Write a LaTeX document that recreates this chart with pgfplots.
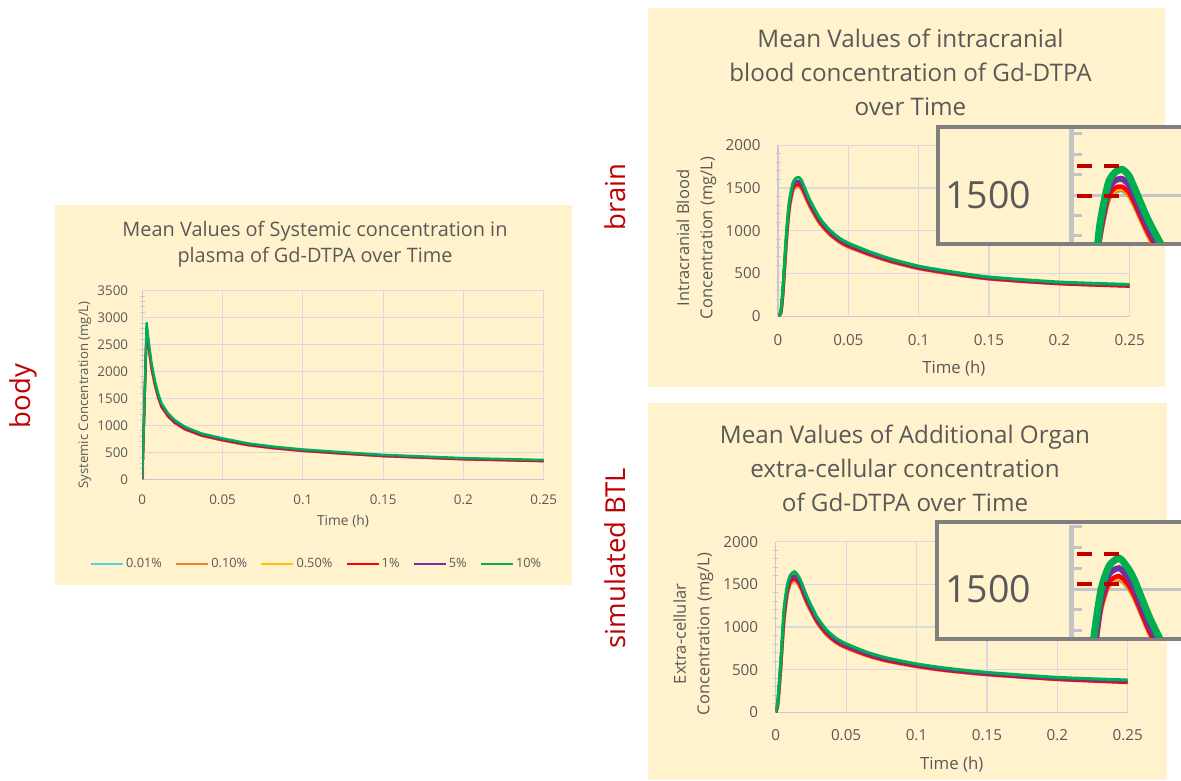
\documentclass[border=0pt]{standalone}
\usepackage{pgfplots}
\pgfplotsset{compat=1.18}
\usepackage{pgfplotstable}
\usepackage{fontspec}
\setmainfont{Open Sans}
\definecolor{cream}{HTML}{FFF2CC}
\definecolor{labgray}{HTML}{595959}
\definecolor{gridgray}{HTML}{D9D9DE}
\definecolor{axgray}{HTML}{C8C8D0}
\definecolor{insgray}{HTML}{C4C4C8}
\definecolor{boxgray}{HTML}{7F7F7F}
\definecolor{darkred}{HTML}{C00000}
\definecolor{sCyan}{HTML}{4FD3DA}
\definecolor{sOrange}{HTML}{ED7D31}
\definecolor{sYellow}{HTML}{FFC000}
\definecolor{sRed}{HTML}{FF0000}
\definecolor{sPurple}{HTML}{7030A0}
\definecolor{sGreen}{HTML}{00B050}

\pgfplotstableread{
t       c     o     y     r     p     g
0       0     0     0     0     0     0
0.0027  2760  2770  2780  2790  2840  2913
0.004   2420  2428  2435  2440  2490  2560
0.0058  2040  2046  2052  2057  2100  2152
0.0078  1750  1754  1760  1763  1800  1843
0.0099  1512  1516  1520  1523  1556  1596
0.012   1336  1339  1343  1345  1374  1410
0.0161  1160  1163  1166  1168  1193  1224
0.0202  1043  1046  1049  1050  1073  1101
0.0264  926   928   931   932   952   977
0.0368  808   810   812   813   831   853
0.05    721   722   724   725   741   761
0.0657  633   634   636   636   650   668
0.0822  574   575   577   576   590   606
0.1     526   527   528   527   540   555
0.125   477   478   479   477   489   503
0.15    431   431   433   430   442   455
0.2     373   373   375   371   383   395
0.25    340   339   341   336   349   360
}\sysdata

\pgfplotstableread{
t       c     o     y     r     p     g
0       0     0     0     0     0     0
0.002   30    32    35    40    45    60
0.0035  250   255   262   275   300   340
0.006   870   878   888   905   935   980
0.008   1240  1247  1256  1270  1300  1340
0.0105  1460  1465  1472  1485  1520  1555
0.0125  1510  1515  1522  1535  1570  1610
0.0146  1520  1524  1530  1540  1578  1625
0.0165  1492  1496  1502  1512  1550  1595
0.018   1445  1449  1455  1465  1500  1540
0.0224  1285  1289  1294  1303  1333  1368
0.0295  1086  1089  1093  1100  1125  1152
0.0366  955   958   961   967   989   1012
0.0436  865   867   870   875   894   915
0.05    810   812   814   818   836   856
0.065   716   718   720   723   739   756
0.08    637   638   640   642   656   672
0.1     556   557   559   560   573   587
0.12    502   503   505   505   517   530
0.15    436   437   439   438   449   460
0.2     381   381   383   380   391   401
0.25    354   353   355   350   363   373
}\braindata

\pgfplotstableread{
t       c     o     y     r     p     g
0       0     0     0     0     0     0
0.0015  80    85    90    100   110   140
0.0035  480   488   497   510   540   590
0.0047  790   797   806   820   855   902
0.0059  1060  1067  1076  1090  1130  1216
0.0082  1375  1381  1388  1400  1440  1490
0.0106  1510  1516  1522  1534  1572  1612
0.0134  1540  1546  1552  1562  1600  1648
0.0155  1510  1515  1521  1530  1566  1610
0.0176  1452  1457  1462  1471  1506  1549
0.0223  1267  1271  1276  1283  1313  1353
0.0293  1047  1050  1054  1060  1085  1118
0.0364  900   903   906   911   932   961
0.0434  808   810   813   817   836   863
0.05    753   755   758   761   779   804
0.0646  662   663   665   668   684   706
0.0786  599   600   602   604   619   639
0.1     534   535   537   538   551   568
0.121   486   487   489   489   501   518
0.15    440   441   443   442   453   468
0.2     385   385   387   384   395   410
0.25    354   353   355   348   364   379
}\ecdata

\pgfplotsset{
  mainax/.style={
    scale only axis, anchor=south west,
    axis lines=left, axis line style={-, draw=axgray, line width=1.2pt},
    xmin=0, xmax=0.25, ymin=0,
    grid=major, major grid style={draw=gridgray, line width=1.2pt},
    xtick={0,0.05,0.1,0.15,0.2,0.25},
    xticklabels={0,0.05,0.1,0.15,0.2,0.25},
    major tick length=0pt, minor tick length=5pt, minor y tick num=4,
    tick align=center, minor tick style={draw=axgray, line width=1pt},
    /pgf/number format/assume math mode=true,
    /pgf/number format/1000 sep={}, scaled ticks=false,
    ticklabel style={text=labgray, inner sep=0pt},
    label style={text=labgray},
    clip=true,
  },
  insax/.style={
    scale only axis, anchor=south west,
    axis x line=none, axis y line=left,
    axis line style={-, draw=insgray, line width=5pt},
    xmin=0,
    ytick={1300,1400,1500,1600,1700,1800},
    yticklabels={,,1500,,,},
    major tick length=10pt, tick align=inside,
    major tick style={draw=insgray, line width=3pt},
    /pgf/number format/assume math mode=true,
    yticklabel style={text=labgray, font=\fontsize{37.5}{37.5}\selectfont, anchor=center, xshift=-83.7pt, inner sep=0pt},
    clip=true,
  },
}

\begin{document}
\begin{tikzpicture}[x=1pt,y=1pt]
\path[use as bounding box] (0,0) rectangle (1181,-780);
\fill[cream] (55,-205) rectangle (572,-585);
\fill[cream] (648,-8) rectangle (1165,-387);
\fill[cream] (648,-403) rectangle (1167,-780);

\node[rotate=90, text=darkred, font=\fontsize{27.5}{27.5}\selectfont] at (23,-396) {body};
\node[rotate=90, text=darkred, font=\fontsize{27.5}{27.5}\selectfont] at (615,-197) {brain};
\node[rotate=90, text=darkred, font=\fontsize{27.5}{27.5}\selectfont] at (615,-558) {simulated BTL};

\node[align=center, text=labgray, font=\fontsize{19.9}{26}\selectfont] at (315,-244.5) {Mean Values of Systemic concentration in\\plasma of Gd-DTPA over Time};
\node[align=center, text=labgray, font=\fontsize{24.2}{33.8}\selectfont] at (910.5,-72.5) {Mean Values of intracranial\\blood concentration of Gd-DTPA\\over Time};
\node[align=center, text=labgray, font=\fontsize{24.2}{33.8}\selectfont] at (905,-468.5) {Mean Values of Additional Organ\\extra-cellular concentration\\of Gd-DTPA over Time};

% ---------- body ----------
\begin{axis}[mainax, at={(142.3pt,-479.3pt)}, width=401.4pt, height=188.6pt,
  ymax=3500, ytick={0,500,1000,1500,2000,2500,3000,3500},
  ticklabel style={font=\fontsize{13.4}{13.4}\selectfont},
  xticklabel style={anchor=center, yshift=-20pt},
  yticklabel style={anchor=east, xshift=-14pt},
  xlabel={Time (h)}, ylabel={Systemic Concentration (mg/L)},
  xlabel style={font=\fontsize{13.8}{13.8}\selectfont, at={(0.5,-0.221)}, anchor=center},
  ylabel style={font=\fontsize{13.2}{13.2}\selectfont, at={(-0.1428,0.447)}, anchor=center, rotate=0},
  legend columns=6,
  legend style={draw=none, fill=none, at={(0.434,-0.449)}, anchor=center,
    font=\fontsize{12.8}{12.8}\selectfont, text=labgray,
    /tikz/every even column/.append style={column sep=11pt}},
  legend image code/.code={\draw[#1] (0pt,0pt) -- (32pt,0pt);},
]
\addplot[sCyan, line width=2.3pt] table[x=t,y=c]{\sysdata};
\addplot[sOrange, line width=2.3pt] table[x=t,y=o]{\sysdata};
\addplot[sYellow, line width=2.3pt] table[x=t,y=y]{\sysdata};
\addplot[sRed, line width=2.3pt] table[x=t,y=r]{\sysdata};
\addplot[sPurple, line width=2.3pt] table[x=t,y=p]{\sysdata};
\addplot[sGreen, line width=2.3pt] table[x=t,y=g]{\sysdata};
\legend{0.01\%,0.10\%,0.50\%,1\%,5\%,10\%}
\end{axis}

% ---------- brain ----------
\begin{axis}[mainax, at={(778pt,-316.3pt)}, width=351.7pt, height=171pt,
  ymax=2000, ytick={0,500,1000,1500,2000},
  ticklabel style={font=\fontsize{15.2}{15.2}\selectfont},
  xticklabel style={anchor=center, yshift=-23.4pt},
  yticklabel style={anchor=east, xshift=-17.3pt},
  xlabel={Time (h)}, ylabel={Intracranial Blood\\Concentration (mg/L)},
  xlabel style={font=\fontsize{16.8}{16.8}\selectfont, at={(0.5,-0.302)}, anchor=center},
  ylabel style={font=\fontsize{16.5}{23.3}\selectfont, align=center, at={(-0.232,0.458)}, anchor=center, rotate=0},
]
\addplot[sCyan, line width=3pt, smooth, tension=0.4] table[x=t,y=c]{\braindata};
\addplot[sOrange, line width=3pt, smooth, tension=0.4] table[x=t,y=o]{\braindata};
\addplot[sYellow, line width=3pt, smooth, tension=0.4] table[x=t,y=y]{\braindata};
\addplot[sRed, line width=3pt, smooth, tension=0.4] table[x=t,y=r]{\braindata};
\addplot[sPurple, line width=3pt, smooth, tension=0.4] table[x=t,y=p]{\braindata};
\addplot[sGreen, line width=3pt, smooth, tension=0.4] table[x=t,y=g]{\braindata};
\end{axis}

\filldraw[fill=cream, draw=boxgray, line width=4pt] (938,-127) rectangle (1195,-244);
\begin{axis}[insax, at={(1071.7pt,-242pt)}, width=109.3pt, height=113pt,
  xmax=0.03158, ymin=1270.7, ymax=1822]
\draw[insgray, line width=3pt] (axis cs:0,1500) -- (axis cs:0.04,1500);
\addplot[sCyan, line width=3pt, smooth, tension=0.4] table[x=t,y=c]{\braindata};
\addplot[sOrange, line width=3.5pt, smooth, tension=0.4] table[x=t,y=o]{\braindata};
\addplot[sYellow, line width=3.5pt, smooth, tension=0.4] table[x=t,y=y]{\braindata};
\addplot[sRed, line width=4.5pt, smooth, tension=0.4] table[x=t,y=r]{\braindata};
\addplot[sPurple, line width=6pt, smooth, tension=0.4] table[x=t,y=p]{\braindata};
\addplot[sGreen, line width=7pt, smooth, tension=0.4] table[x=t,y=g]{\braindata};
\draw[darkred, line width=4pt, dash pattern=on 15pt off 12.5pt] (axis cs:0.00144,1643) -- (axis cs:0.01396,1643);
\draw[darkred, line width=4pt, dash pattern=on 15pt off 12.5pt] (axis cs:0.00144,1497) -- (axis cs:0.01396,1497);
\end{axis}

% ---------- extra-cellular ----------
\begin{axis}[mainax, at={(775.7pt,-712.3pt)}, width=352pt, height=170.6pt,
  ymax=2000, ytick={0,500,1000,1500,2000},
  ticklabel style={font=\fontsize{15.2}{15.2}\selectfont},
  xticklabel style={anchor=center, yshift=-22.7pt},
  yticklabel style={anchor=east, xshift=-17.4pt},
  xlabel={Time (h)}, ylabel={Extra-cellular\\Concentration (mg/L)},
  xlabel style={font=\fontsize{16.8}{16.8}\selectfont, at={(0.5,-0.303)}, anchor=center},
  ylabel style={font=\fontsize{16.5}{23.3}\selectfont, align=center, at={(-0.234,0.459)}, anchor=center, rotate=0},
]
\addplot[sCyan, line width=3pt, smooth, tension=0.4] table[x=t,y=c]{\ecdata};
\addplot[sOrange, line width=3pt, smooth, tension=0.4] table[x=t,y=o]{\ecdata};
\addplot[sYellow, line width=3pt, smooth, tension=0.4] table[x=t,y=y]{\ecdata};
\addplot[sRed, line width=3pt, smooth, tension=0.4] table[x=t,y=r]{\ecdata};
\addplot[sPurple, line width=3pt, smooth, tension=0.4] table[x=t,y=p]{\ecdata};
\addplot[sGreen, line width=3pt, smooth, tension=0.4] table[x=t,y=g]{\ecdata};
\end{axis}

\filldraw[fill=cream, draw=boxgray, line width=4pt] (937.3,-522.3) rectangle (1195,-639);
\begin{axis}[insax, at={(1071.7pt,-637pt)}, width=109.3pt, height=112pt,
  xmax=0.0309, ymin=1269.2, ymax=1807.7]
\draw[insgray, line width=3pt] (axis cs:0,1500) -- (axis cs:0.04,1500);
\addplot[sCyan, line width=3pt, smooth, tension=0.4] table[x=t,y=c]{\ecdata};
\addplot[sOrange, line width=3.5pt, smooth, tension=0.4] table[x=t,y=o]{\ecdata};
\addplot[sYellow, line width=3.5pt, smooth, tension=0.4] table[x=t,y=y]{\ecdata};
\addplot[sRed, line width=4.5pt, smooth, tension=0.4] table[x=t,y=r]{\ecdata};
\addplot[sPurple, line width=6pt, smooth, tension=0.4] table[x=t,y=p]{\ecdata};
\addplot[sGreen, line width=7pt, smooth, tension=0.4] table[x=t,y=g]{\ecdata};
\draw[darkred, line width=4pt, dash pattern=on 15pt off 12.5pt] (axis cs:0.00141,1668) -- (axis cs:0.01366,1668);
\draw[darkred, line width=4pt, dash pattern=on 15pt off 12.5pt] (axis cs:0.00141,1524) -- (axis cs:0.01366,1524);
\end{axis}
\end{tikzpicture}
\end{document}
